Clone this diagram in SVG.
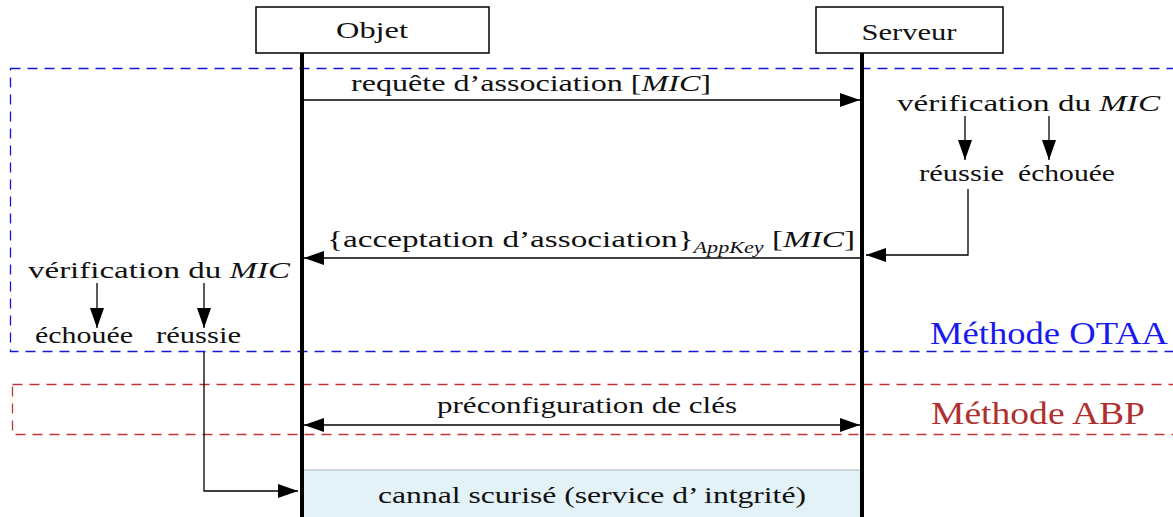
<svg xmlns="http://www.w3.org/2000/svg" width="1173" height="517" viewBox="0 0 1173 517" font-family="'Liberation Serif', 'DejaVu Serif', 'Times New Roman', serif">
<style>
text{font-family:"Liberation Serif","DejaVu Serif","Times New Roman",serif;fill:#111;}
.t{font-size:24px;}
.it{font-style:italic;}
.box{fill:#fff;stroke:#000;stroke-width:1.5;}
.life{stroke:#000;stroke-width:4;fill:none;}
.arr{stroke:#000;stroke-width:1.3;fill:none;}
.otaa{fill:none;stroke:#1515d8;stroke-width:1.3;stroke-dasharray:10 7;}
.abp{fill:none;stroke:#c03535;stroke-width:1.3;stroke-dasharray:10 7;}
</style>
<defs>
<marker id="ah" viewBox="0 0 20 14" refX="20" refY="7" markerWidth="20" markerHeight="14" markerUnits="userSpaceOnUse" orient="auto-start-reverse">
<path d="M0,0 L20,7 L0,14 Z" fill="#000"/>
</marker>
</defs>

<g id="frames">
<rect class="otaa" x="10.5" y="68.5" width="1180" height="283"/>
<rect class="abp" x="12.5" y="384.5" width="1180" height="50"/>
<text x="1168" y="344" text-anchor="end" style="font-size:31px;fill:#1a1aee" textLength="238" lengthAdjust="spacingAndGlyphs">Méthode OTAA</text>
<text x="1145" y="424" text-anchor="end" style="font-size:31px;fill:#b03030" textLength="214" lengthAdjust="spacingAndGlyphs">Méthode ABP</text>
</g>

<g id="canal">
<rect x="303" y="470" width="560" height="52" fill="#e3f2f7" stroke="#c4c8cc" stroke-width="1.5"/>
<text class="t" x="592" y="503" text-anchor="middle" textLength="428" lengthAdjust="spacingAndGlyphs">cannal scurisé (service d’ intgrité)</text>
</g>

<g id="objet">
<rect class="box" x="256" y="7" width="233" height="46"/>
<text class="t" x="372" y="38" text-anchor="middle" textLength="72" lengthAdjust="spacingAndGlyphs">Objet</text>
<line class="life" x1="302" y1="53" x2="302" y2="517"/>
</g>

<g id="serveur">
<rect class="box" x="816" y="7" width="187" height="46"/>
<text class="t" x="909" y="40" text-anchor="middle" textLength="95" lengthAdjust="spacingAndGlyphs">Serveur</text>
<line class="life" x1="862" y1="53" x2="862" y2="517"/>
</g>

<g id="verif-serveur">
<text class="t" x="897" y="111" textLength="263" lengthAdjust="spacingAndGlyphs">vérification du <tspan class="it">MIC</tspan></text>
<text class="t" x="919" y="181" textLength="85" lengthAdjust="spacingAndGlyphs">réussie</text>
<text class="t" x="1018" y="181" textLength="97" lengthAdjust="spacingAndGlyphs">échouée</text>
</g>

<g id="verif-objet">
<text class="t" x="28" y="278" textLength="262" lengthAdjust="spacingAndGlyphs">vérification du <tspan class="it">MIC</tspan></text>
<text class="t" x="35" y="343" textLength="98" lengthAdjust="spacingAndGlyphs">échouée</text>
<text class="t" x="156" y="343" textLength="85" lengthAdjust="spacingAndGlyphs">réussie</text>
</g>

<g id="labels">
<text class="t" x="351" y="91" textLength="360" lengthAdjust="spacingAndGlyphs">requête d’association [<tspan class="it">MIC</tspan>]</text>
<text class="t" x="327" y="247" textLength="528" lengthAdjust="spacingAndGlyphs">{acceptation d’association}<tspan class="it" style="font-size:16px" dy="6">AppKey</tspan><tspan dy="-6"> [</tspan><tspan class="it">MIC</tspan>]</text>
<text class="t" x="587" y="413" text-anchor="middle" textLength="300" lengthAdjust="spacingAndGlyphs">préconfiguration de clés</text>
</g>

<g id="connectors">
<line class="arr" x1="302" y1="100" x2="860" y2="100" marker-end="url(#ah)"/>
<line class="arr" x1="965" y1="116" x2="965" y2="160" marker-end="url(#ah)"/>
<line class="arr" x1="1049" y1="116" x2="1049" y2="160" marker-end="url(#ah)"/>
<polyline class="arr" points="968,189 968,255 866,255" marker-end="url(#ah)"/>
<line class="arr" x1="862" y1="258" x2="304" y2="258" marker-end="url(#ah)"/>
<line class="arr" x1="97" y1="283" x2="97" y2="328" marker-end="url(#ah)"/>
<line class="arr" x1="204" y1="283" x2="204" y2="328" marker-end="url(#ah)"/>
<polyline class="arr" points="204,352 204,491 298,491" marker-end="url(#ah)"/>
<line class="arr" x1="304" y1="425" x2="860" y2="425" marker-start="url(#ah)" marker-end="url(#ah)"/>
</g>
</svg>
